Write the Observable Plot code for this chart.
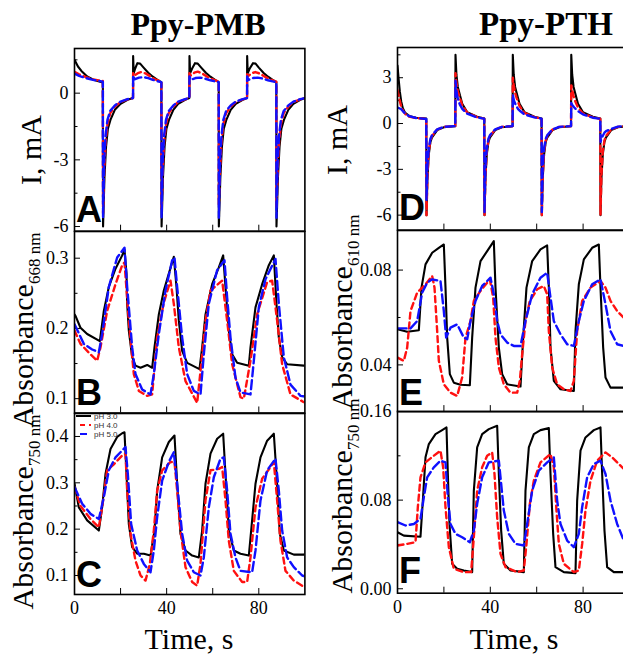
<!DOCTYPE html>
<html><head><meta charset="utf-8">
<script src="https://cdn.jsdelivr.net/npm/d3@7"></script>
<script src="https://cdn.jsdelivr.net/npm/@observablehq/plot@0.6"></script>
<style>
html,body{margin:0;padding:0;background:#fff;}
#wrap{position:relative;width:623px;height:658px;overflow:hidden;background:#fff;}
#overlay{position:absolute;left:0;top:0;pointer-events:none;}
#wrap svg text, #wrap svg tspan{font-family:"Liberation Serif","Times New Roman",serif !important;}
#wrap svg text.sans{font-family:"Liberation Sans",Arial,sans-serif !important;}
</style></head><body>
<div id="wrap"></div>
<script>
// ---------- DATA: [time (s), value] ----------
const seriesNames = ["pH 3.0", "pH 4.0", "pH 5.0"];
const titles = ["Ppy-PMB", "Ppy-PTH"];
const xLabelTicks = [0, 40, 80];
const xMinorTicks = [20, 40, 60, 80];

// Panel A: current (mA), Ppy-PMB
const A_pH3 = [[0,1.5],[1.5,1.2],[3,1.0],[5.5,0.75],[8,0.62],[10,0.55],[12.3,0.48],[12.4,-6.0],[13.0,-3.8],[13.7,-2.4],[14.5,-1.6],[15.6,-1.2],[17.5,-0.75],[20,-0.48],[23,-0.3],[25.4,-0.22],[25.45,1.67],[25.7,0.9],[26.3,1.1],[27.3,1.35],[28.5,1.33],[30,1.15],[32,0.92],[34,0.74],[36,0.6],[37.7,0.5],[37.8,-6.0],[38.4,-3.8],[39.1,-2.4],[39.9,-1.6],[41,-1.2],[42.9,-0.75],[45,-0.48],[48,-0.3],[49.85,-0.22],[49.9,1.67],[50.2,0.9],[51,1.1],[52.3,1.35],[53.5,1.33],[55,1.15],[57,0.92],[59,0.74],[61,0.6],[62.6,0.5],[62.65,-6.0],[63.3,-3.8],[64,-2.4],[64.8,-1.6],[65.9,-1.2],[67.8,-0.75],[70,-0.48],[73,-0.3],[74.9,-0.22],[74.94,1.67],[75.2,0.9],[76,1.1],[77.5,1.35],[78.6,1.33],[80,1.15],[82,0.92],[84,0.74],[86,0.6],[87.6,0.5],[87.67,-6.0],[88.3,-3.8],[89,-2.4],[89.8,-1.6],[90.9,-1.2],[92.8,-0.75],[95,-0.48],[98,-0.3],[100,-0.22]];
const A_pH4 = [[0,0.96],[2,0.85],[5,0.72],[8,0.62],[12.3,0.55],[12.4,-5.4],[12.9,-3.4],[13.5,-2.2],[14.3,-1.4],[15.5,-0.9],[17.5,-0.6],[20,-0.4],[23,-0.28],[25.4,-0.22],[25.45,0.9],[26,0.8],[27.5,0.9],[29,0.95],[31,0.88],[33,0.75],[35,0.62],[37.7,0.52],[37.8,-5.2],[38.3,-3.4],[38.9,-2.2],[39.7,-1.4],[40.9,-0.9],[42.9,-0.6],[45,-0.4],[48,-0.28],[49.85,-0.22],[49.9,0.9],[50.5,0.8],[52,0.92],[53.5,0.97],[55.5,0.88],[58,0.72],[60.5,0.6],[62.6,0.52],[62.65,-5.0],[63.2,-3.4],[63.8,-2.2],[64.6,-1.4],[65.8,-0.9],[67.8,-0.6],[70,-0.4],[73,-0.28],[74.9,-0.22],[74.94,0.85],[75.5,0.78],[77,0.9],[78.5,0.95],[80.5,0.88],[83,0.72],[85.5,0.6],[87.6,0.52],[87.67,-5.1],[88.2,-3.4],[88.8,-2.2],[89.6,-1.4],[90.8,-0.9],[92.8,-0.6],[95,-0.4],[98,-0.28],[100,-0.22]];
const A_pH5 = [[0,0.88],[2,0.78],[5,0.68],[8,0.6],[12.3,0.52],[12.4,-5.6],[12.9,-3.0],[13.5,-1.9],[14.3,-1.2],[15.5,-0.8],[17.5,-0.55],[20,-0.38],[23,-0.27],[25.4,-0.22],[25.45,0.8],[26,0.62],[28,0.7],[30,0.72],[32,0.68],[34,0.6],[36,0.54],[37.7,0.5],[37.8,-5.6],[38.3,-3.0],[38.9,-1.9],[39.7,-1.2],[40.9,-0.8],[42.9,-0.55],[45,-0.38],[48,-0.27],[49.85,-0.22],[49.9,0.75],[50.5,0.6],[52.5,0.68],[54.5,0.7],[56.5,0.66],[59,0.58],[61,0.53],[62.6,0.5],[62.65,-5.6],[63.2,-3.0],[63.8,-1.9],[64.6,-1.2],[65.8,-0.8],[67.8,-0.55],[70,-0.38],[73,-0.27],[74.9,-0.22],[74.94,0.75],[75.5,0.6],[77.5,0.68],[79.5,0.7],[81.5,0.66],[84,0.58],[86,0.53],[87.6,0.5],[87.67,-5.6],[88.2,-3.0],[88.8,-1.9],[89.6,-1.2],[90.8,-0.8],[92.8,-0.55],[95,-0.38],[98,-0.27],[100,-0.22]];

// Panel B: absorbance 668 nm, Ppy-PMB
const B_pH3 = [[0,0.22],[0.43,0.218],[2.6,0.201],[5.5,0.192],[11.0,0.182],[12.73,0.225],[14.9,0.259],[17.8,0.285],[20.7,0.304],[21.7,0.312],[22.57,0.278],[22.86,0.235],[23.58,0.197],[25.03,0.159],[26.48,0.147],[28.65,0.144],[31.54,0.148],[33.7,0.144],[34.72,0.173],[36.6,0.22],[38.77,0.254],[40.94,0.278],[43.11,0.302],[44.27,0.259],[45.28,0.211],[46.73,0.168],[48.9,0.151],[54.25,0.142],[55.41,0.173],[56.86,0.22],[59.75,0.263],[62.65,0.287],[64.53,0.304],[65.54,0.259],[66.98,0.197],[68.43,0.163],[70.6,0.151],[75.67,0.147],[76.39,0.173],[78.56,0.23],[81.45,0.263],[84.35,0.29],[86.52,0.304],[87.67,0.235],[88.69,0.187],[90.13,0.159],[92.3,0.149],[99.54,0.147],[100,0.147]];
const B_pH4 = [[0,0.197],[2.6,0.178],[6.94,0.163],[9.84,0.154],[11.28,0.173],[14.18,0.225],[17.8,0.263],[20.7,0.29],[21.7,0.294],[23.58,0.211],[25.75,0.135],[27.93,0.111],[31.54,0.104],[33.7,0.106],[35.88,0.187],[38.77,0.237],[41.67,0.268],[43.11,0.235],[45.28,0.173],[48.18,0.125],[53.24,0.094],[54.69,0.139],[56.86,0.211],[59.03,0.254],[64.09,0.268],[66.26,0.211],[68.43,0.149],[72.05,0.102],[73.5,0.1],[76.39,0.154],[79.28,0.22],[83.62,0.266],[85.79,0.268],[87.96,0.211],[90.13,0.149],[93.75,0.106],[99.54,0.095],[100,0.095]];
const B_pH5 = [[0,0.206],[4.05,0.178],[7.67,0.17],[10.56,0.166],[12.0,0.192],[14.9,0.259],[18.52,0.301],[21.7,0.315],[22.86,0.259],[25.03,0.173],[26.48,0.135],[29.37,0.113],[32.99,0.106],[34.43,0.135],[36.6,0.192],[39.5,0.254],[42.39,0.297],[43.4,0.301],[44.56,0.259],[46.73,0.187],[48.9,0.135],[51.79,0.111],[54.69,0.106],[56.13,0.163],[58.3,0.235],[61.92,0.283],[65.1,0.297],[66.26,0.244],[67.71,0.187],[69.87,0.13],[72.05,0.109],[76.39,0.106],[77.84,0.154],[80.0,0.23],[82.9,0.27],[87.24,0.299],[88.69,0.235],[90.86,0.159],[93.75,0.12],[98.09,0.104],[100,0.103]];

// Panel C: absorbance 750 nm, Ppy-PMB
const C_pH3 = [[0,0.298],[1.88,0.247],[5.5,0.219],[10.56,0.197],[12.0,0.247],[13.45,0.319],[15.63,0.373],[18.52,0.399],[20.7,0.407],[21.7,0.409],[22.57,0.319],[23.58,0.211],[25.03,0.161],[27.2,0.147],[30.1,0.147],[32.99,0.143],[34.72,0.197],[35.88,0.283],[38.05,0.355],[40.94,0.388],[43.4,0.402],[44.56,0.298],[46.0,0.19],[48.18,0.154],[51.07,0.143],[53.96,0.139],[55.41,0.197],[56.86,0.298],[59.03,0.363],[61.92,0.395],[64.53,0.406],[65.54,0.319],[66.98,0.197],[69.15,0.154],[72.05,0.147],[75.67,0.143],[76.68,0.197],[78.56,0.298],[80.73,0.355],[83.62,0.391],[86.52,0.406],[87.67,0.319],[89.12,0.19],[90.86,0.154],[95.2,0.145],[99.54,0.145],[100,0.146]];
const C_pH4 = [[0,0.291],[2.6,0.25],[6.94,0.222],[10.56,0.204],[12.0,0.247],[14.18,0.327],[17.08,0.34],[20.7,0.359],[22.14,0.363],[22.86,0.283],[24.3,0.19],[26.48,0.132],[28.65,0.1],[30.82,0.089],[32.7,0.125],[34.43,0.197],[35.88,0.283],[38.05,0.327],[41.67,0.345],[43.4,0.345],[44.56,0.283],[46.0,0.197],[48.18,0.118],[51.07,0.086],[53.24,0.078],[54.69,0.125],[56.86,0.262],[59.03,0.327],[62.65,0.33],[64.09,0.334],[65.54,0.262],[66.98,0.175],[69.15,0.11],[72.77,0.086],[74.94,0.086],[76.39,0.139],[78.56,0.247],[81.45,0.309],[85.07,0.334],[86.52,0.345],[87.96,0.262],[89.41,0.175],[91.58,0.11],[95.2,0.089],[98.81,0.078],[100,0.078]];
const C_pH5 = [[0,0.291],[3.33,0.255],[6.94,0.233],[10.56,0.222],[12.73,0.269],[14.9,0.327],[17.8,0.355],[22.14,0.377],[23.15,0.319],[24.59,0.211],[27.2,0.154],[30.1,0.125],[32.99,0.107],[34.43,0.154],[35.88,0.226],[38.05,0.305],[40.94,0.345],[43.11,0.366],[44.56,0.298],[46.73,0.19],[48.9,0.132],[51.79,0.107],[54.69,0.1],[56.13,0.139],[58.3,0.247],[60.47,0.312],[63.37,0.352],[64.81,0.355],[66.26,0.283],[67.71,0.19],[69.87,0.139],[72.05,0.11],[77.11,0.107],[78.56,0.154],[80.73,0.262],[83.62,0.327],[87.24,0.352],[88.69,0.283],[90.13,0.197],[92.3,0.139],[95.2,0.118],[98.81,0.1],[100,0.098]];

// Panel D: current (mA), Ppy-PTH
const D_pH3 = [[0,3.8],[0.5,2.9],[1,2.1],[1.6,1.45],[2.3,1.0],[3.2,0.72],[5,0.5],[8,0.38],[12.4,0.32],[12.5,-6.0],[12.9,-3.6],[13.5,-2.0],[14.2,-1.2],[14.9,-0.9],[17.1,-0.43],[20,-0.24],[24.9,-0.18],[25,4.5],[25.4,3.2],[26,2.4],[26.5,2.1],[27.9,1.3],[30,0.75],[34.3,0.44],[37.4,0.33],[37.5,-6.0],[37.9,-3.6],[38.5,-2.0],[39.2,-1.2],[39.9,-0.9],[42.1,-0.43],[45,-0.24],[49.6,-0.18],[49.7,4.5],[50.1,3.2],[50.7,2.4],[51.2,2.1],[52.6,1.3],[54.7,0.75],[59,0.44],[62.1,0.33],[62.2,-6.0],[62.6,-3.6],[63.2,-2.0],[63.9,-1.2],[64.6,-0.9],[66.8,-0.43],[69.7,-0.24],[74.8,-0.18],[74.9,4.5],[75.3,3.2],[75.9,2.4],[76.4,2.1],[77.8,1.3],[79.9,0.75],[84.2,0.44],[87.4,0.33],[87.5,-6.0],[87.9,-3.6],[88.5,-2.0],[89.2,-1.2],[89.9,-0.9],[92.1,-0.43],[95,-0.24],[100,-0.16]];
const D_pH4 = [[0,2.2],[0.8,1.6],[1.6,1.1],[2.5,0.8],[3.5,0.6],[5,0.45],[8,0.36],[12.4,0.3],[12.5,-6.0],[12.9,-3.4],[13.5,-1.8],[14.2,-1.1],[14.9,-0.8],[17.1,-0.4],[20,-0.22],[24.9,-0.17],[25,3.3],[25.4,2.7],[26,2.1],[26.6,1.8],[27.9,1.2],[30,0.72],[34.3,0.42],[37.4,0.32],[37.5,-6.0],[37.9,-3.4],[38.5,-1.8],[39.2,-1.1],[39.9,-0.8],[42.1,-0.4],[45,-0.22],[49.6,-0.17],[49.7,3.0],[50.1,2.5],[50.7,2.0],[51.3,1.7],[52.6,1.15],[54.7,0.7],[59,0.42],[62.1,0.32],[62.2,-6.0],[62.6,-3.4],[63.2,-1.8],[63.9,-1.1],[64.6,-0.8],[66.8,-0.4],[69.7,-0.22],[74.8,-0.17],[74.9,2.5],[75.3,2.2],[75.9,1.8],[76.5,1.5],[77.8,1.05],[79.9,0.66],[84.2,0.4],[87.4,0.31],[87.5,-6.0],[87.9,-3.4],[88.5,-1.8],[89.2,-1.1],[89.9,-0.8],[92.1,-0.4],[95,-0.22],[100,-0.15]];
const D_pH5 = [[0,1.05],[1.5,0.95],[3,0.7],[5,0.48],[8,0.36],[12.4,0.3],[12.5,-5.0],[12.9,-2.8],[13.5,-1.6],[14.2,-1.0],[14.9,-0.75],[17.1,-0.38],[20,-0.22],[24.9,-0.17],[25,2.8],[25.5,2.0],[26.2,1.5],[27,1.2],[28,0.95],[30,0.65],[34.3,0.4],[37.4,0.32],[37.5,-5.8],[37.9,-2.8],[38.5,-1.6],[39.2,-1.0],[39.9,-0.75],[42.1,-0.38],[45,-0.22],[49.6,-0.17],[49.7,1.9],[50.2,1.5],[51,1.2],[52,0.95],[53,0.8],[54.7,0.6],[59,0.4],[62.1,0.32],[62.2,-5.8],[62.6,-2.8],[63.2,-1.6],[63.9,-1.0],[64.6,-0.75],[66.8,-0.38],[69.7,-0.22],[74.8,-0.17],[74.9,1.35],[75.4,1.2],[76.2,1.05],[77.5,0.85],[79.9,0.6],[84.2,0.38],[87.4,0.31],[87.5,-1.2],[87.9,-1.0],[88.5,-0.8],[89.2,-0.6],[89.9,-0.5],[92.1,-0.35],[95,-0.2],[100,-0.15]];

// Panel E: absorbance 610 nm, Ppy-PTH
const E_pH3 = [[0,0.055],[4.17,0.054],[9.2,0.0546],[10.34,0.0726],[12.07,0.0824],[14.94,0.0873],[17.82,0.0894],[19.97,0.0908],[20.69,0.0726],[21.41,0.0515],[22.56,0.0361],[24.28,0.0325],[27.16,0.0316],[31.18,0.0314],[32.18,0.0515],[33.62,0.0726],[35.78,0.0838],[38.65,0.088],[41.52,0.0922],[42.24,0.0726],[43.68,0.0473],[45.11,0.0361],[47.27,0.0318],[53.02,0.0309],[54.17,0.0515],[55.6,0.0726],[58.05,0.0838],[61.64,0.0887],[64.51,0.0904],[65.23,0.0726],[65.95,0.0473],[67.39,0.0333],[70.26,0.0297],[76.01,0.029],[76.72,0.0543],[78.16,0.074],[80.32,0.0845],[83.91,0.0894],[86.78,0.0908],[87.5,0.0726],[88.65,0.0473],[89.66,0.0347],[91.81,0.0304],[97.56,0.0304],[100,0.0304]];
const E_pH4 = [[0,0.0431],[2.73,0.0417],[4.17,0.0473],[5.6,0.0627],[8.48,0.0705],[12.07,0.074],[14.94,0.0775],[15.95,0.0726],[17.1,0.0543],[17.82,0.0417],[19.97,0.0318],[22.84,0.0283],[25.72,0.0269],[27.87,0.0347],[29.31,0.0515],[31.47,0.0585],[32.9,0.067],[35.78,0.0712],[38.65,0.0747],[39.8,0.0761],[41.24,0.0684],[42.24,0.0515],[43.68,0.0389],[45.83,0.0318],[48.71,0.0283],[51.58,0.0283],[52.73,0.0333],[53.74,0.0445],[55.17,0.0585],[57.04,0.067],[60.2,0.0719],[63.07,0.0733],[64.51,0.0698],[65.23,0.0543],[66.67,0.0389],[68.82,0.0318],[71.7,0.0297],[74.57,0.029],[76.01,0.0333],[77.44,0.0543],[79.6,0.067],[83.19,0.0726],[87.5,0.0754],[89.66,0.0726],[91.81,0.067],[94.68,0.0627],[97.56,0.0599],[100,0.058]];
const E_pH5 = [[0,0.0554],[5.6,0.0554],[8.48,0.0585],[10.63,0.0705],[12.79,0.0747],[14.94,0.0761],[18.53,0.0754],[19.97,0.0627],[20.98,0.0515],[22.84,0.0557],[25.72,0.0571],[28.59,0.0515],[30.03,0.0508],[31.47,0.0585],[33.62,0.067],[36.49,0.0733],[40.09,0.0768],[41.52,0.0698],[42.96,0.0585],[44.4,0.0529],[47.27,0.0494],[50.14,0.048],[53.02,0.048],[55.17,0.0585],[58.05,0.0698],[61.64,0.0768],[64.51,0.0789],[65.95,0.0684],[67.39,0.0585],[70.26,0.0529],[73.13,0.0487],[76.01,0.048],[78.16,0.0585],[80.32,0.067],[83.91,0.074],[87.5,0.0761],[89.66,0.0656],[91.81,0.0543],[94.68,0.0487],[97.56,0.048],[100,0.048]];

// Panel F: absorbance 750 nm, Ppy-PTH
const F_pH3 = [[0,0.051],[2.73,0.048],[9.91,0.047],[10.92,0.0796],[12.07,0.1186],[13.51,0.1306],[16.38,0.1396],[19.25,0.1432],[21.12,0.1456],[21.7,0.1036],[22.41,0.0585],[23.56,0.0225],[25.72,0.018],[28.59,0.0165],[32.18,0.015],[32.9,0.0886],[34.34,0.1276],[36.49,0.1396],[39.37,0.1441],[42.96,0.1471],[43.68,0.1036],[44.68,0.0525],[45.83,0.0225],[48.71,0.0165],[54.45,0.015],[55.17,0.0886],[56.61,0.1276],[58.76,0.1396],[61.64,0.1432],[65.23,0.145],[65.95,0.1036],[67.1,0.0495],[68.1,0.0195],[71.7,0.015],[76.72,0.0141],[77.44,0.0796],[78.88,0.1246],[81.03,0.1366],[84.63,0.1432],[87.5,0.1456],[88.22,0.1036],[89.22,0.0525],[90.37,0.0195],[93.25,0.015],[97.56,0.015],[100,0.015]];
const F_pH4 = [[0,0.039],[4.17,0.0405],[7.76,0.042],[8.76,0.0736],[9.91,0.1006],[12.07,0.1141],[15.66,0.1201],[18.53,0.1246],[19.68,0.1096],[20.69,0.0736],[22.13,0.0375],[24.28,0.018],[28.59,0.015],[31.75,0.015],[32.9,0.0465],[34.34,0.0886],[36.49,0.1096],[38.65,0.1201],[40.8,0.1231],[41.81,0.1036],[42.96,0.0645],[44.4,0.0315],[46.55,0.0195],[51.58,0.015],[54.45,0.0165],[55.6,0.0405],[57.04,0.0766],[58.76,0.0976],[61.64,0.1141],[65.95,0.1216],[67.39,0.1096],[68.53,0.0706],[69.54,0.0405],[71.7,0.0225],[76.01,0.015],[78.16,0.0165],[79.6,0.0405],[81.03,0.0706],[83.19,0.0976],[86.06,0.1156],[89.66,0.1231],[92.53,0.1186],[95.4,0.1126],[97.56,0.1081],[100,0.104]];
const F_pH5 = [[0,0.0601],[3.45,0.0571],[7.04,0.0585],[9.91,0.063],[11.35,0.0826],[12.79,0.1006],[15.66,0.1096],[18.53,0.1156],[20.69,0.1141],[21.7,0.0826],[22.84,0.0585],[25.0,0.0495],[27.87,0.0465],[31.18,0.042],[32.9,0.0525],[34.34,0.0766],[36.49,0.1006],[39.37,0.1141],[43.68,0.1156],[44.68,0.0946],[45.83,0.0706],[47.99,0.0495],[50.86,0.0405],[54.45,0.039],[55.89,0.0585],[58.05,0.0886],[60.92,0.1066],[64.51,0.1141],[67.39,0.1186],[68.82,0.0796],[70.26,0.0585],[73.13,0.0435],[76.01,0.0375],[78.16,0.0495],[79.6,0.0736],[81.75,0.1006],[84.63,0.1126],[87.5,0.1156],[89.66,0.1036],[91.81,0.0796],[94.68,0.0585],[97.56,0.0435],[100,0.038]];

// tick values
const ticksA = [-6, -3, 0], minorA = [-4.5, -1.5, 1.5];
const ticksB = [0.1, 0.2, 0.3], minorB = [0.15, 0.25];
const ticksC = [0.1, 0.2, 0.3, 0.4], minorC = [0.15, 0.25, 0.35];
const ticksD = [-6, -3, 0, 3], minorD = [-4.5, -1.5, 1.5, 4.5];
const ticksE = [0.04, 0.08], minorE = [0.06];
const ticksF = [0.00, 0.08, 0.16], minorF = [0.04, 0.12];

// ---------- DRAWING ----------
const wrap = document.getElementById("wrap");
const COLORS = {black: "#000000", red: "#ff1010", blue: "#1010ff"};
const SERIF = "Liberation Serif";
const SANS = "Liberation Sans";

function panel(opt) {
  const {s3, s4, s5, yDomain, yTicks, yMinor, fmt, left, right, top, bottom, bottomAxis} = opt;
  const mT = 14, mB = bottomAxis ? 36 : 14, mL = 72, mR = 10;
  const width = (right - left) + mL + mR;
  const height = (bottom - top) + mT + mB;
  const X = d => d[0], Y = d => d[1];
  const font = {fontFamily: SERIF, fontSize: 18};
  const marks = [
    Plot.axisY({ticks: yMinor, tickSize: -3.5, tickFormat: () => "", label: null}),
    Plot.axisY({ticks: yTicks, tickSize: -6, tickPadding: 12, tickFormat: fmt, label: null, ...font}),
    Plot.axisX({ticks: xMinorTicks, tickSize: -6, tickFormat: () => "", label: null}),
    Plot.line(s3, {x: X, y: Y, stroke: COLORS.black, strokeWidth: 2.1, clip: true}),
    Plot.line(s4, {x: X, y: Y, stroke: COLORS.red, strokeWidth: 2.4, strokeDasharray: "6,4", clip: true}),
    Plot.line(s5, {x: X, y: Y, stroke: COLORS.blue, strokeWidth: 2.4, strokeDasharray: "9,4", clip: true}),
    Plot.frame({stroke: "#000", strokeWidth: 1.6})
  ];
  if (bottomAxis) marks.push(Plot.axisX({ticks: xLabelTicks, tickSize: 0, tickPadding: 7, label: null, ...font}));
  const svg = Plot.plot({
    width, height, marginTop: mT, marginBottom: mB, marginLeft: mL, marginRight: mR,
    x: {domain: [0, 100]}, y: {domain: yDomain},
    style: {background: "transparent", overflow: "visible", maxWidth: "none",
            fontFamily: SERIF, fontSize: "18px", color: "#000"},
    marks
  });
  svg.style.position = "absolute";
  svg.style.left = (left - mL) + "px";
  svg.style.top = (top - mT) + "px";
  wrap.appendChild(svg);
}

const fmtInt = d => String(d);
const fmt1 = d => d.toFixed(1);
const fmt2 = d => d.toFixed(2);
const L = {left: 74, right: 304.4}, R = {left: 397, right: 629};

panel({s3: A_pH3, s4: A_pH4, s5: A_pH5, yDomain: [-6.21, 2.01], yTicks: ticksA, yMinor: minorA, fmt: fmtInt, ...L, top: 48, bottom: 230.7});
panel({s3: B_pH3, s4: B_pH4, s5: B_pH5, yDomain: [0.0796, 0.338], yTicks: ticksB, yMinor: minorB, fmt: fmt1, ...L, top: 231, bottom: 412.5});
panel({s3: C_pH3, s4: C_pH4, s5: C_pH5, yDomain: [0.059, 0.4496], yTicks: ticksC, yMinor: minorC, fmt: fmt1, ...L, top: 413, bottom: 594, bottomAxis: true});
panel({s3: D_pH3, s4: D_pH4, s5: D_pH5, yDomain: [-6.98, 4.98], yTicks: ticksD, yMinor: minorD, fmt: fmtInt, ...R, top: 46.7, bottom: 229.3});
panel({s3: E_pH3, s4: E_pH4, s5: E_pH5, yDomain: [0.0203, 0.0967], yTicks: ticksE, yMinor: minorE, fmt: fmt2, ...R, top: 229.6, bottom: 410.7});
panel({s3: F_pH3, s4: F_pH4, s5: F_pH5, yDomain: [-0.004, 0.16], yTicks: ticksF, yMinor: minorF, fmt: fmt2, ...R, top: 411, bottom: 592.7, bottomAxis: true});

// ---------- TEXT OVERLAY ----------
const NS = "http://www.w3.org/2000/svg";
const ov = document.createElementNS(NS, "svg");
ov.setAttribute("id", "overlay");
ov.setAttribute("width", 623); ov.setAttribute("height", 658);
wrap.appendChild(ov);
function txt(x, y, str, attrs = {}) {
  const t = document.createElementNS(NS, "text");
  t.setAttribute("x", x); t.setAttribute("y", y);
  for (const k in attrs) t.setAttribute(k, attrs[k]);
  if (str != null) t.textContent = str;
  ov.appendChild(t);
  return t;
}

// titles
txt(198, 35, titles[0], {"font-size": 32, "font-weight": "bold", "text-anchor": "middle"});
txt(546, 35, titles[1], {"font-size": 33, "font-weight": "bold", "text-anchor": "middle"});

// y-axis titles
function ylab(x, y, main, sub) {
  const t = txt(0, 0, null, {"font-size": 30, "text-anchor": "middle",
    transform: `translate(${x},${y}) rotate(-90)`});
  const a = document.createElementNS(NS, "tspan"); a.textContent = main; t.appendChild(a);
  if (sub) {
    const b = document.createElementNS(NS, "tspan");
    b.setAttribute("font-size", 17); b.setAttribute("dy", 7); b.textContent = sub; t.appendChild(b);
  }
}
ylab(41, 150, "I, mA");
ylab(33, 330, "Absorbance", "668 nm");
ylab(33, 512, "Absorbance", "750 nm");
ylab(347, 140, "I, mA");
ylab(352, 312, "Absorbance", "610 nm");
ylab(352, 496, "Absorbance", "750 nm");

// x-axis titles
txt(189, 649, "Time, s", {"font-size": 30, "text-anchor": "middle"});
txt(514, 649, "Time, s", {"font-size": 30, "text-anchor": "middle"});

// panel letters
const letterAttrs = {"class": "sans", "font-size": 36, "font-weight": "bold"};
txt(76, 222, "A", letterAttrs);
txt(76, 405, "B", letterAttrs);
txt(76, 587, "C", letterAttrs);
txt(399, 220, "D", letterAttrs);
txt(399, 405, "E", letterAttrs);
txt(399, 583, "F", letterAttrs);

// legend (panel C)
const legY = [416, 425, 434];
const legStyles = [
  {stroke: COLORS.black, dash: null},
  {stroke: COLORS.red, dash: "5,4"},
  {stroke: COLORS.blue, dash: "7,4"}
];
seriesNames.forEach((name, i) => {
  const ln = document.createElementNS(NS, "line");
  ln.setAttribute("x1", 76); ln.setAttribute("x2", 91);
  ln.setAttribute("y1", legY[i]); ln.setAttribute("y2", legY[i]);
  ln.setAttribute("stroke", legStyles[i].stroke); ln.setAttribute("stroke-width", 2);
  if (legStyles[i].dash) { ln.setAttribute("stroke-dasharray", legStyles[i].dash); ln.setAttribute("stroke-dashoffset", -4); }
  ov.appendChild(ln);
  txt(94, legY[i] + 3, name, {"class": "sans", "font-size": 8, fill: "#333"});
});
</script>
</body></html>
